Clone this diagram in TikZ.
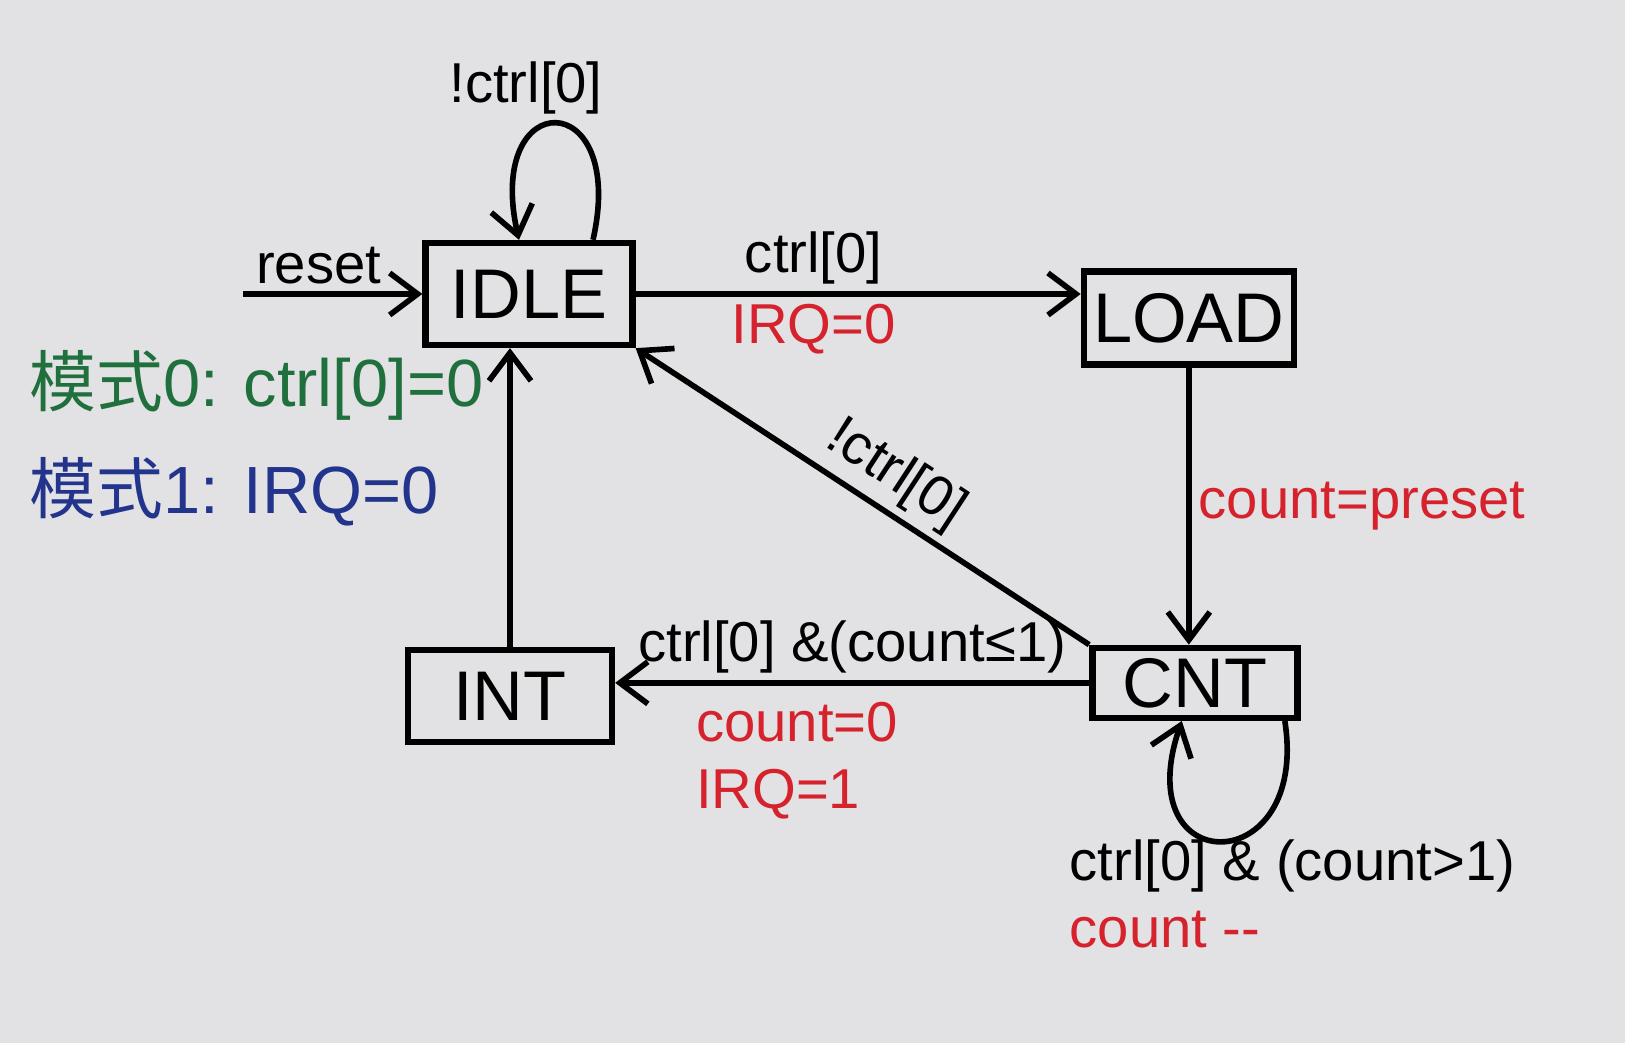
\documentclass[tikz,border=0pt]{standalone}
\usepackage{fontspec}
\setmainfont{Liberation Sans}
\newfontfamily\cjk{Noto Sans CJK SC}
\usetikzlibrary{arrows.meta,positioning}
\definecolor{penred}{RGB}{214,34,44}
\definecolor{pengreen}{RGB}{32,112,62}
\definecolor{penblue}{RGB}{34,52,140}
\definecolor{paper}{RGB}{226,226,228}

\begin{document}
\begin{tikzpicture}[
    auto,
    node distance=2cm,
    >={Straight Barb[length=2.8mm,width=4.2mm]},
    line width=1.6pt,
    font=\fontsize{16}{19}\selectfont,
    stbox/.style={
		rectangle,
		draw=black,
		line width=1.8pt,
		inner sep=2pt,
		font=\fontsize{20}{24}\selectfont,
		minimum width=2.07cm,
		minimum height=1.02cm
	},
	lbl/.style={
		inner sep=2pt
	},
	act/.style={
		text=penred
	},
	mode/.style={
		inner sep=2pt,
		anchor=west,
		font=\fontsize{19}{24}\selectfont
	}
  ]
  % the sheet
  \fill [paper] (0,0) rectangle (16.25,-10.43);
  \useasboundingbox (0,0) rectangle (16.25,-10.43);

  % We start by placing the states
  \node [stbox] (idle) at (5.29,-2.94) {IDLE};
  \node [stbox, minimum width=2.1cm, minimum height=0.93cm, right=4.45cm of idle, yshift=-0.24cm] (load) {LOAD};
  \node [stbox, minimum width=2.05cm, minimum height=0.7cm, below=2.77cm of load, xshift=0.06cm] (cnt) {CNT};
  \node [stbox, minimum width=2.04cm, minimum height=0.92cm, left=4.74cm of cnt, yshift=-0.13cm] (int) {INT};

  % modes
  \node [mode, text=pengreen] (mode0) at (0.2,-3.85) {{\cjk 模式}0: ctrl[0]=0};
  \node [mode, text=penblue] (mode1) at (0.2,-4.92) {{\cjk 模式}1: IRQ=0};

  % transitions
  \coordinate [left=1.79cm of idle.west] (rst);
  \draw [->] (rst) -- node [lbl, above, pos=0.42] {reset} (idle.west);
  \draw [->] ([xshift=6.4mm]idle.north) .. controls +(0.35,1.55) and +(-0.35,1.55) .. node [lbl, above, xshift=-3mm] {!ctrl[0]} ([xshift=-1mm]idle.north);
  \draw [->] (idle.east) -- node [lbl, above, pos=0.4] {ctrl[0]} node [lbl, below, pos=0.4, act] {IRQ=0} (idle.east -| load.west);
  \draw [->] (load.south) -- node [lbl, right, act] {count=preset} (load.south |- cnt.north);
  \draw [->] (cnt.north west) -- node [lbl, sloped, above, pos=0.47] {!ctrl[0]} (idle.south east);
  \draw [->] (cnt.west) -- node [lbl, above, pos=0.5] {ctrl[0] \&(count≤1)} node [lbl, pos=0.85, anchor=north west, yshift=-1mm, align=left, act] {count=0\\IRQ=1} (cnt.west -| int.east);
  \draw [->] (int.north) -- (int.north |- idle.south);
  \draw [->] ([xshift=9mm]cnt.south) .. controls +(0.25,-1.6) and +(-0.55,-1.6) .. ([xshift=-1.3mm]cnt.south);
  \node [lbl, anchor=north west, align=left] (cntcond) at (10.6,-8.3) {ctrl[0] \& (count>1)\\\textcolor{penred}{count -{}-}};

\end{tikzpicture}
\end{document}
